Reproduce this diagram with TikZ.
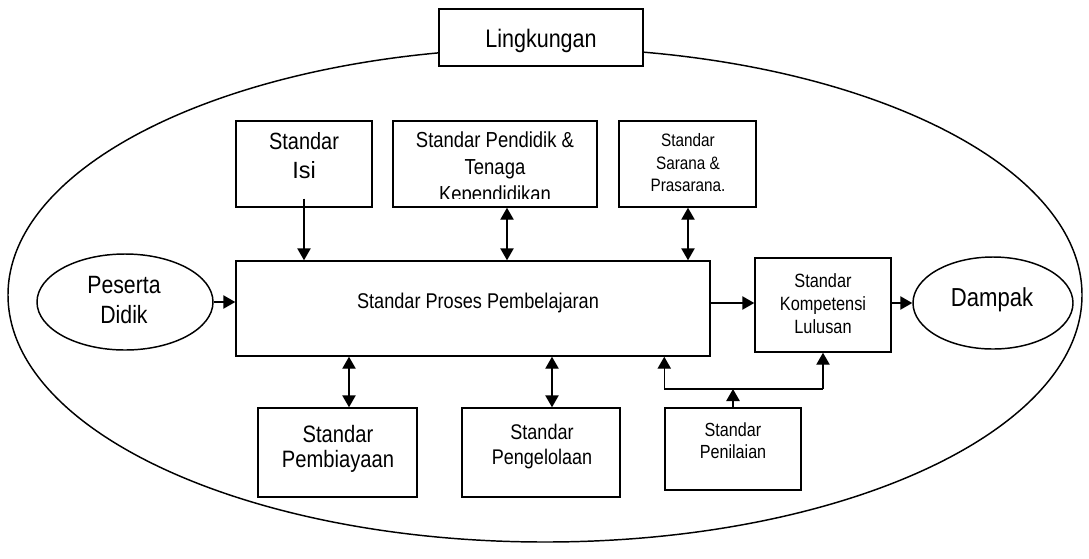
\documentclass[tikz,border=0pt]{standalone}
\usepackage{fontspec}
\setmainfont{Liberation Sans}
\newfontfamily\narrowfont{Liberation Sans}[FakeStretch=0.85]
\usetikzlibrary{arrows.meta,shapes.geometric,fit}
\newcommand\myfs[2]{\fontsize{#1}{#2}\selectfont}
\tikzset{
  ln/.style={line width=1.1pt},
  box/.style={draw, line width=1.1pt, inner sep=0pt, fill=white},
  oval/.style={draw, ellipse, line width=1.1pt, inner sep=0pt, fill=white},
  txt/.style={align=center, inner sep=0pt},
  arr/.style={line width=1.1pt, -{Triangle[length=9pt,width=10pt]}},
  darr/.style={line width=1.1pt, {Triangle[length=9pt,width=10pt]}-{Triangle[length=9pt,width=10pt]}},
}
\begin{document}
\begin{tikzpicture}[x=0.75pt,y=-0.75pt]
\useasboundingbox (0,0) rectangle (1089,558);
% environment
\node[draw, ellipse, line width=1.1pt, inner sep=0pt, minimum width=805.5pt, minimum height=370.5pt] (env) at (545,295) {};
\node[box, fit={(439,9) (643,66)}] (lingbox) {};
\node[txt, font={\narrowfont\myfs{19}{22}}] (ling) at (541,41) {Lingkungan};
% top boxes
\node[box, fit={(236,121) (372,207)}] (isibox) {};
\node[box, fit={(393,121) (597,207)}] (pendbox) {};
\node[box, fit={(619,121) (756,207)}] (sarbox) {};
\node[txt, font={\narrowfont\myfs{17.6}{21.75}}] (isitxt) at (304,156) {Standar\\{\normalfont Isi}};
\begin{scope}
  \clip (393,121) rectangle (597,198);
  \node[txt, font={\narrowfont\myfs{16.3}{20.25}}] (pendtxt) at (495,169) {Standar Pendidik \&\\Tenaga\\Kependidikan};
\end{scope}
\node[txt, font={\narrowfont\myfs{13.5}{16.9}}] (sartxt) at (688,163) {Standar\\Sarana \&\\Prasarana.};
% main row
\node[box, fit={(236,261) (710,356)}] (main) {};
\node[txt, font={\narrowfont\myfs{16}{19}}] (maintxt) at (478,303) {Standar Proses Pembelajaran};
\node[oval, minimum width=132pt, minimum height=72pt] (pes) at (125,302) {};
\node[txt, font={\narrowfont\myfs{18.75}{22}}] (pestxt) at (124,300) {Peserta\\Didik};
\node[box, fit={(755,258) (891,352)}] (komp) {};
\node[txt, font={\narrowfont\myfs{14.4}{17.25}}] (komptxt) at (823,304) {Standar\\Kompetensi\\Lulusan};
\node[oval, minimum width=120pt, minimum height=69pt] (dampak) at (993,303) {};
\node[txt, font={\narrowfont\myfs{19.5}{23}}] (damptxt) at (992,300) {Dampak};
% bottom boxes
\node[box, fit={(258,408) (417,497)}] (biaya) {};
\node[box, fit={(462,408) (620,497)}] (kelola) {};
\node[box, fit={(665,408) (801,490)}] (nilai) {};
\node[txt, font={\narrowfont\myfs{17.8}{18.75}}] (biayatxt) at (338,449) {Standar\\Pembiayaan};
\node[txt, font={\narrowfont\myfs{15.9}{18.75}}] (kelolatxt) at (542,447) {Standar\\Pengelolaan};
\node[txt, font={\narrowfont\myfs{14.25}{16.5}}] (nilaitxt) at (733,441) {Standar\\Penilaian};
% helper coordinates
\coordinate (ya) at (0,303);
\coordinate (xpend) at (507,0);
\coordinate (xsar) at (688,0);
\coordinate (xbiaya) at (349,0);
\coordinate (xkelola) at (552,0);
\coordinate (jn) at (733,389);
% connectors
\draw[arr] (pes.east) -- (main.west |- pes.east);
\draw[arr] ([yshift=6.75pt]isibox.south) -- (isibox.south |- main.north);
\draw[darr] (pendbox.south -| xpend) -- (main.north -| xpend);
\draw[darr] (sarbox.south -| xsar) -- (main.north -| xsar);
\draw[arr] (main.east |- ya) -- (komp.west |- ya);
\draw[arr] (komp.east |- ya) -- (dampak.west |- ya);
\draw[darr] (main.south -| xbiaya) -- (biaya.north -| xbiaya);
\draw[darr] (main.south -| xkelola) -- (kelola.north -| xkelola);
\draw[arr] (nilai.north) -- (nilai.north |- jn);
\draw[ln] (jn -| nilai.west) -- (jn -| komp.south);
\draw[arr] (jn -| nilai.west) -- (main.south -| nilai.west);
\draw[arr] (jn -| komp.south) -- (komp.south);
\end{tikzpicture}
\end{document}
